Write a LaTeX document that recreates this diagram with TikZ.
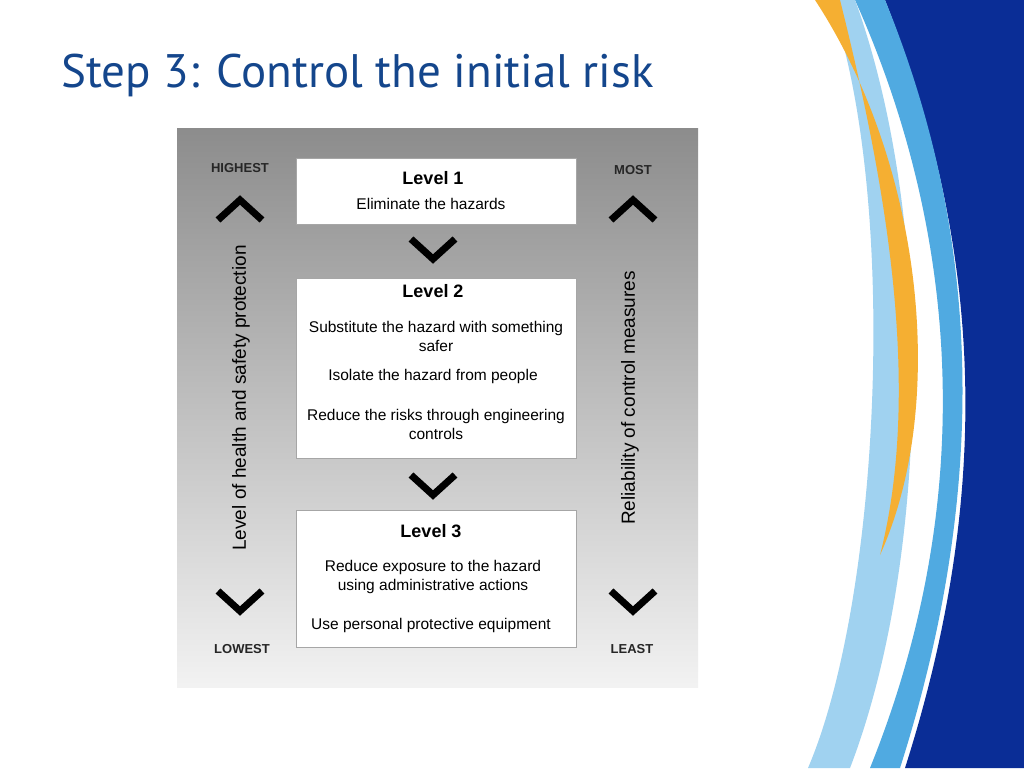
\documentclass[tikz,border=0pt]{standalone}
\usepackage{fontspec}
\setmainfont{Liberation Sans}
\newfontfamily\titlefont{PT Sans}
\definecolor{dblue}{RGB}{10,45,150}
\definecolor{mblue}{RGB}{80,170,225}
\definecolor{lblue}{RGB}{160,210,240}
\definecolor{orng}{RGB}{245,175,50}
\definecolor{ttl}{RGB}{20,70,140}
\begin{document}
\begin{tikzpicture}[x=1pt,y=-1pt,
  lvbox/.style={draw=gray!70,fill=white,line width=0.8pt,anchor=north west,inner sep=0},
  chev/.style={line width=7pt,black},
  txt/.style={font=\fontsize{15.5}{18}\selectfont,align=center},
  side/.style={font=\fontsize{13}{15}\selectfont\bfseries,text=black!85}]
\useasboundingbox (0,0) rectangle (1024,768);
\fill[white] (0,0) rectangle (1024,768);
% decoration
\fill[dblue] (885,0) .. controls (975,230) and (1000,470) .. (905,768) -- (1024,768) -- (1024,0) -- cycle;
\fill[mblue] (855,0) .. controls (945,200) and (990,470) .. (870,768) -- (900,768) .. controls (995,470) and (975,220) .. (885,0) -- cycle;
\fill[lblue] (830,0) .. controls (900,200) and (880,600) .. (808,768) -- (850,768) .. controls (930,560) and (935,220) .. (855,0) -- cycle;
\fill[orng] (815,0) .. controls (920,160) and (950,400) .. (880,555) .. controls (925,380) and (880,160) .. (840,0) -- cycle;
% title
\node[anchor=west,text=ttl,font=\titlefont\fontsize{47}{54}\selectfont] (title) at (58,75) {Step 3: Control the initial risk};
% panel
\shade[top color=black!45,bottom color=black!5] (177,128) rectangle (698,687);
\node[lvbox,minimum width=280,minimum height=66] (l1) at (296,158) {};
\node[lvbox,minimum width=280,minimum height=180] (l2) at (296,278) {};
\node[lvbox,minimum width=280,minimum height=137] (l3) at (296,510) {};
\node[font=\fontsize{18}{20}\selectfont\bfseries] (t1) at (433,178) {Level 1};
\node[txt] (e1) at (431,204) {Eliminate the hazards};
\node[font=\fontsize{18}{20}\selectfont\bfseries] (t2) at (433,291) {Level 2};
\node[txt] (e2) at (436,336) {Substitute the hazard with something\\[1pt]safer};
\node[txt] (e3) at (433,376) {Isolate the hazard from people};
\node[txt] (e4) at (436,424) {Reduce the risks through engineering\\[1pt]controls};
\node[font=\fontsize{18}{20}\selectfont\bfseries] (t3) at (431,531) {Level 3};
\node[txt] (e5) at (433,577) {Reduce exposure to the hazard\\[1pt]using administrative actions};
\node[txt] (e6) at (431,625) {Use personal protective equipment};
% chevrons
\draw[chev] (218,220) -- (240,200) -- (262,220);
\draw[chev] (611,220) -- (633,200) -- (655,220);
\draw[chev] (411,239) -- (433,259) -- (455,239);
\draw[chev] (411,475) -- (433,495) -- (455,475);
\draw[chev] (218,591) -- (240,611) -- (262,591);
\draw[chev] (611,591) -- (633,611) -- (655,591);
\node[side] (hi) at (240,168) {HIGHEST};
\node[side] (mo) at (633,170) {MOST};
\node[side] (lo) at (242,649) {LOWEST};
\node[side] (le) at (632,649) {LEAST};
\node[rotate=90,font=\fontsize{19}{21}\selectfont] (lh) at (241,398) {Level of health and safety protection};
\node[rotate=90,font=\fontsize{19}{21}\selectfont] (rc) at (630,398) {Reliability of control measures};
\end{tikzpicture}
\end{document}
